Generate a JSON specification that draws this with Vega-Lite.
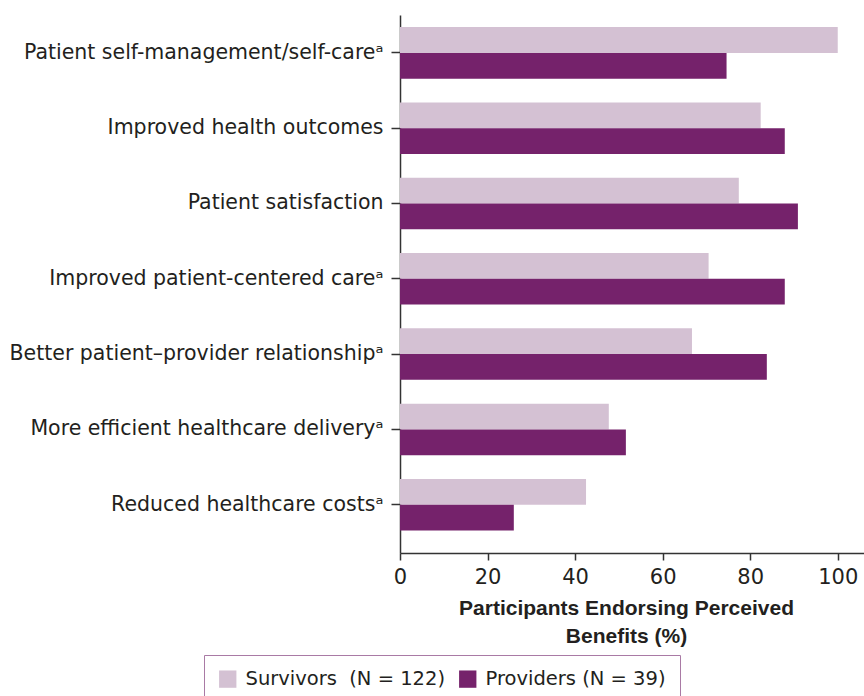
{
  "$schema": "https://vega.github.io/schema/vega-lite/v6.json",
  "autosize": {"type": "none"},
  "padding": {"left": 400, "top": 15, "right": 0, "bottom": 143},
  "width": 464,
  "height": 538,
  "background": "white",
  "config": {"view": {"stroke": null}, "font": "DejaVu Sans"},
  "data": {
    "values": [
      {"benefit": "Patient self-management/self-careᵃ", "group": "Survivors\u00a0\u00a0(N = 122)", "pct": 100},
      {"benefit": "Patient self-management/self-careᵃ", "group": "Providers (N = 39)", "pct": 74.6},
      {"benefit": "Improved health outcomes", "group": "Survivors\u00a0\u00a0(N = 122)", "pct": 82.4},
      {"benefit": "Improved health outcomes", "group": "Providers (N = 39)", "pct": 87.9},
      {"benefit": "Patient satisfaction", "group": "Survivors\u00a0\u00a0(N = 122)", "pct": 77.4},
      {"benefit": "Patient satisfaction", "group": "Providers (N = 39)", "pct": 90.9},
      {"benefit": "Improved patient-centered careᵃ", "group": "Survivors\u00a0\u00a0(N = 122)", "pct": 70.5},
      {"benefit": "Improved patient-centered careᵃ", "group": "Providers (N = 39)", "pct": 87.9},
      {"benefit": "Better patient–provider relationshipᵃ", "group": "Survivors\u00a0\u00a0(N = 122)", "pct": 66.7},
      {"benefit": "Better patient–provider relationshipᵃ", "group": "Providers (N = 39)", "pct": 83.8},
      {"benefit": "More efficient healthcare deliveryᵃ", "group": "Survivors\u00a0\u00a0(N = 122)", "pct": 47.7},
      {"benefit": "More efficient healthcare deliveryᵃ", "group": "Providers (N = 39)", "pct": 51.6},
      {"benefit": "Reduced healthcare costsᵃ", "group": "Survivors\u00a0\u00a0(N = 122)", "pct": 42.5},
      {"benefit": "Reduced healthcare costsᵃ", "group": "Providers (N = 39)", "pct": 26.0}
    ]
  },
  "mark": {"type": "bar"},
  "encoding": {
    "y": {
      "field": "benefit",
      "type": "nominal",
      "sort": null,
      "scale": {"paddingInner": 0.316, "paddingOuter": 0.23, "align": 0.35},
      "axis": {
        "title": null,
        "domainColor": "#333333",
        "domainWidth": 1.5,
        "tickColor": "#333333",
        "tickWidth": 1.5,
        "tickSize": 9,
        "labelFont": "DejaVu Sans",
        "labelFontSize": 20.5,
        "labelColor": "#231f20",
        "labelPadding": 8,
        "labelLimit": 500
      }
    },
    "yOffset": {
      "field": "group",
      "type": "nominal",
      "sort": ["Survivors\u00a0\u00a0(N = 122)", "Providers (N = 39)"],
      "scale": {"paddingInner": 0, "paddingOuter": 0}
    },
    "x": {
      "field": "pct",
      "type": "quantitative",
      "scale": {"domain": [0, 106], "nice": false},
      "axis": {
        "values": [0, 20, 40, 60, 80, 100],
        "title": ["Participants Endorsing Perceived", "Benefits (%)"],
        "titleFont": "Liberation Sans",
        "titleFontSize": 21,
        "titleFontWeight": "bold",
        "titleColor": "#231f20",
        "titleLineHeight": 28,
        "titlePadding": 10,
        "titleX": 226,
        "grid": false,
        "domainColor": "#333333",
        "domainWidth": 1.5,
        "tickColor": "#333333",
        "tickWidth": 1.5,
        "tickSize": 7,
        "labelFlush": false,
        "labelFont": "DejaVu Sans",
        "labelFontSize": 21,
        "labelColor": "#231f20",
        "labelPadding": 6
      }
    },
    "color": {
      "field": "group",
      "type": "nominal",
      "scale": {"domain": ["Survivors\u00a0\u00a0(N = 122)", "Providers (N = 39)"], "range": ["#d4c1d3", "#75226b"]},
      "legend": {
        "title": null,
        "orient": "none",
        "legendX": -196,
        "legendY": 640,
        "direction": "horizontal",
        "strokeColor": "#a97aa5",
        "padding": 14,
        "symbolType": "square",
        "symbolSize": 300,
        "symbolStrokeWidth": 0,
        "labelFont": "DejaVu Sans",
        "labelFontSize": 19.5,
        "labelColor": "#231f20",
        "labelOffset": 8,
        "columnPadding": 12,
        "labelLimit": 400
      }
    }
  }
}
